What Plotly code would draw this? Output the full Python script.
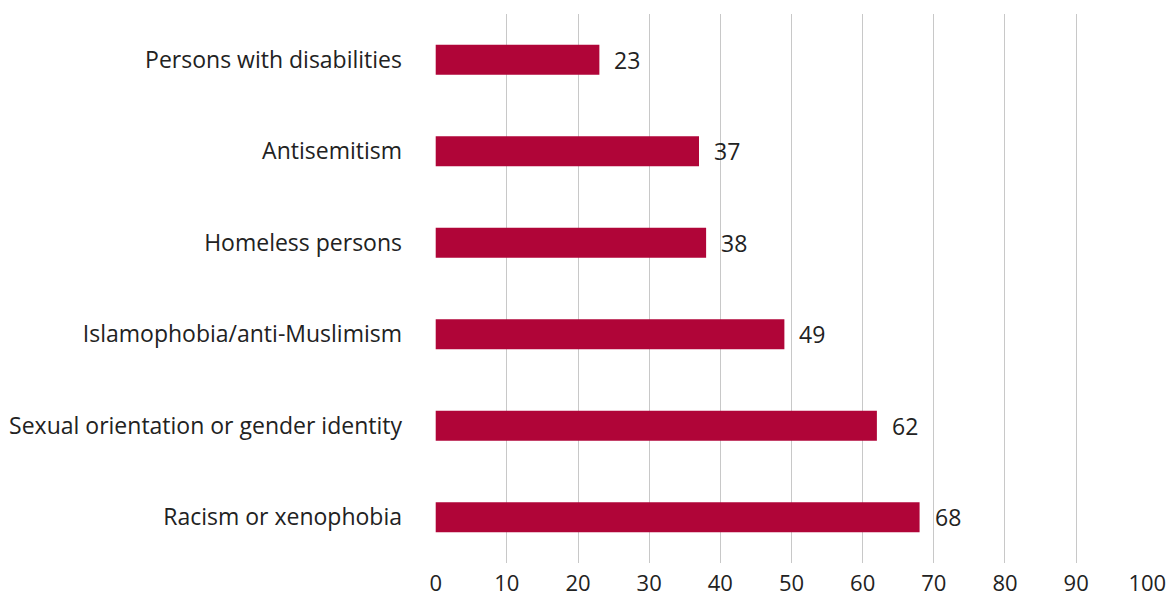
import plotly.graph_objects as go

categories = ["Persons with disabilities", "Antisemitism", "Homeless persons",
              "Islamophobia/anti-Muslimism", "Sexual orientation or gender identity",
              "Racism or xenophobia"]
values = [23, 37, 38, 49, 62, 68]
x_ticks = [0, 10, 20, 30, 40, 50, 60, 70, 80, 90, 100]

color = "#b00538"
font = dict(family="Open Sans", size=23, color="#222222")

fig = go.Figure(go.Bar(
    x=values, y=categories, orientation="h",
    marker=dict(color=color, line=dict(width=0)),
    hoverinfo="skip",
))
for c, v in zip(categories, values):
    fig.add_annotation(x=v, y=c, text=str(v), showarrow=False,
                       xanchor="left", xshift=13, font=font)

fig.update_layout(
    width=1167, height=599,
    margin=dict(l=435, r=19, t=14, b=36, autoexpand=False),
    paper_bgcolor="white", plot_bgcolor="white",
    font=font,
    bargap=0.67,
    showlegend=False,
    xaxis=dict(range=[-0.1, 100.1], tickvals=x_ticks, showgrid=True, automargin=False,
               gridcolor="#c8c8c8", gridwidth=1.3, zeroline=False,
               showline=False, ticks="", ticklabelstandoff=5,
               tickfont=dict(family="Open Sans", size=22, color="#222222"),
               ticklabeloverflow="allow", fixedrange=True),
    yaxis=dict(autorange="reversed", showgrid=False, showline=False, ticks="",
               automargin=False, ticklabelstandoff=32, fixedrange=True),
)
fig.write_html("out.html")
